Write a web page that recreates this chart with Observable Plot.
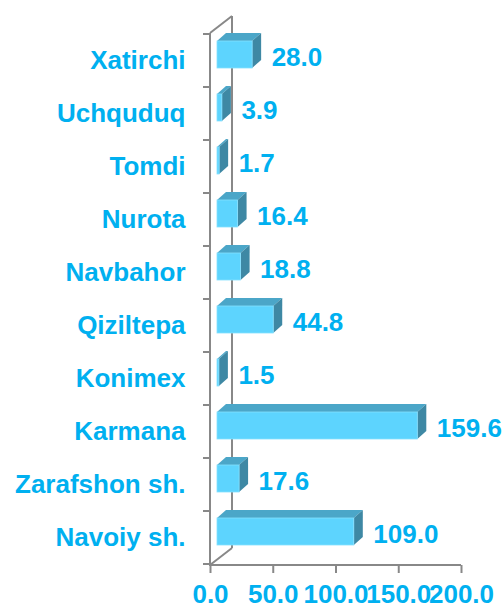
<!DOCTYPE html>
<html>
<head>
<meta charset="utf-8">
<script src="https://cdn.jsdelivr.net/npm/d3@7"></script>
<script src="https://cdn.jsdelivr.net/npm/@observablehq/plot@0.6"></script>
<style>
  html, body { margin: 0; padding: 0; background: #ffffff; }
  #chart svg { display: block; font-family: "Liberation Sans", Arial, sans-serif; }
</style>
</head>
<body>
<div id="chart"></div>
<script>
const categories = ["Xatirchi", "Uchquduq", "Tomdi", "Nurota", "Navbahor", "Qiziltepa", "Konimex", "Karmana", "Zarafshon sh.", "Navoiy sh."];
const values = [28.0, 3.9, 1.7, 16.4, 18.8, 44.8, 1.5, 159.6, 17.6, 109.0];
const xTicks = [0, 50, 100, 150, 200];
const xTickLabels = ["0.0", "50.0", "100.0", "150.0", "200.0"];

const data = categories.map((c, i) => ({cat: c, value: values[i]}));

const textColor = "#00B0F0";
const lineColor = "#888888";
const frontColor = "#5DD4FE";
const topColor = "#4BA6C8";
const sideColor = "#3E88A4";

// 3D geometry (pixels)
const wallDx = 22, wallDy = -17;
const barOx = 7, barOy = -6, barDx = 9, barDy = -8, barH = 27;

function wall(index, scales, values, dims) {
  const x = scales.x, y = scales.y;
  const x0 = x(0), xEnd = x(200);
  const yTop = dims.marginTop, yBot = dims.height - dims.marginBottom;
  const g = d3.create("svg:g").attr("stroke", lineColor).attr("stroke-width", 2).attr("fill", "none");
  const seg = (a, b, c, d) => g.append("line").attr("x1", a).attr("y1", b).attr("x2", c).attr("y2", d);
  seg(x0, yTop, x0, yBot);
  seg(x0, yTop, x0 + wallDx, yTop + wallDy);
  seg(x0 + wallDx, yTop + wallDy, x0 + wallDx, yBot + wallDy);
  seg(x0, yBot, x0 + wallDx, yBot + wallDy);
  seg(x0 - 1, yBot, xEnd, yBot);
  const bounds = categories.map(c => y(c)).concat([y(categories[categories.length - 1]) + y.bandwidth()]);
  for (const b of bounds) seg(x0 - 7, b, x0, b);
  return g.node();
}

const bars3d = Plot.barX(data, {
  x: "value",
  y: "cat",
  render(index, scales, values, dims) {
    const x = scales.x, y = scales.y, bw = y.bandwidth();
    const g = d3.create("svg:g");
    for (const i of index) {
      const d = data[i];
      const xa = x(0) + barOx, xb = x(d.value) + barOx;
      const yc = y(d.cat) + bw / 2 + barOy;
      const yt = yc - barH / 2, yb = yc + barH / 2;
      const pts = p => p.map(q => q.join(",")).join(" ");
      g.append("polygon").attr("points", pts([[xa, yt], [xb, yt], [xb + barDx, yt + barDy], [xa + barDx, yt + barDy]])).attr("fill", topColor);
      g.append("polygon").attr("points", pts([[xb, yt], [xb + barDx, yt + barDy], [xb + barDx, yb + barDy], [xb, yb]])).attr("fill", sideColor);
      g.append("rect").attr("x", xa).attr("y", yt).attr("width", Math.max(0, xb - xa)).attr("height", barH)
        .attr("fill", frontColor).attr("stroke", "#86E0FF").attr("stroke-width", 0.8);
    }
    return g.node();
  }
});

const chart = Plot.plot({
  width: 504,
  height: 609,
  marginLeft: 210,
  marginRight: 43,
  marginTop: 33,
  marginBottom: 44,
  style: {fontFamily: "'Liberation Sans', Arial, sans-serif", background: "#ffffff"},
  x: {domain: [0, 200], axis: null},
  y: {domain: categories, axis: null, padding: 0},
  marks: [
    wall,
    bars3d,
    Plot.axisX({
      ticks: xTicks,
      tickFormat: (d, i) => xTickLabels[xTicks.indexOf(d)],
      tickSize: 8,
      tickPadding: 11,
      fontSize: 26,
      fontWeight: "bold",
      fill: textColor,
      stroke: lineColor,
      strokeWidth: 2,
      label: null
    }),
    Plot.text(categories, {
      x: () => 0,
      y: d => d,
      text: d => d,
      textAnchor: "end",
      dx: -25,
      fontSize: 26,
      fontWeight: "bold",
      fill: textColor
    }),
    Plot.text(data, {
      x: "value",
      y: "cat",
      text: d => d.value.toFixed(1),
      textAnchor: "start",
      dx: 26,
      dy: -3,
      fontSize: 26,
      fontWeight: "bold",
      fill: textColor
    })
  ]
});

document.getElementById("chart").appendChild(chart);
</script>
</body>
</html>
